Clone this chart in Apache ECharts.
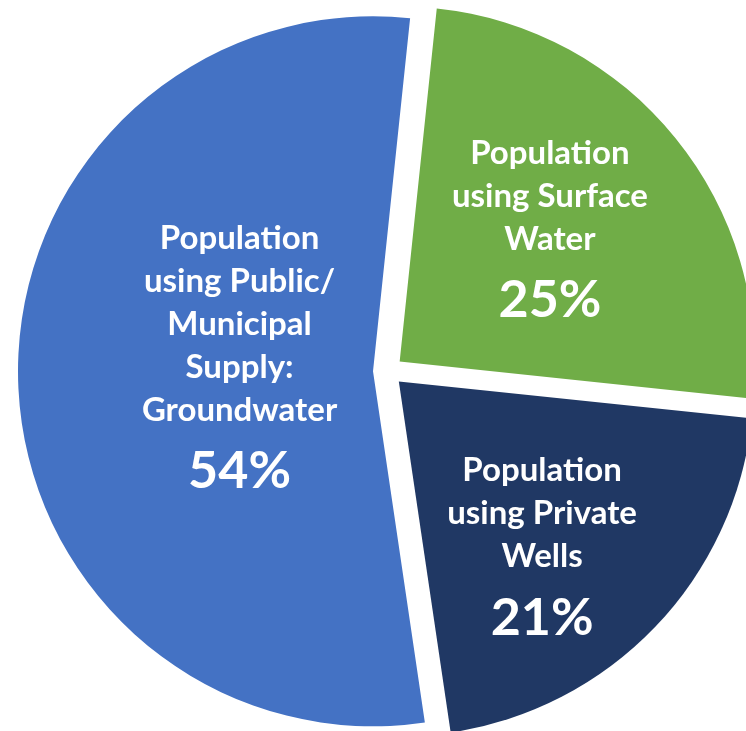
<!DOCTYPE html>
<html>
<head>
<meta charset="utf-8">
<script src="https://cdn.jsdelivr.net/npm/echarts@6/dist/echarts.min.js"></script>
<style>
html,body{margin:0;padding:0;background:#fff;}
#chart{width:746px;height:731px;}
</style>
</head>
<body>
<div id="chart"></div>
<script>
const categories = ['Population using Surface Water', 'Population using Private Wells', 'Population using Public/ Municipal Supply: Groundwater'];
const labelLines = [
  ['Population', 'using Surface', 'Water'],
  ['Population', 'using Private', 'Wells'],
  ['Population', 'using Public/', 'Municipal', 'Supply:', 'Groundwater']
];
const values = [25, 21, 54];
const colors = ['#70AD47', '#203864', '#4472C4'];

const labelPads = [[0, 0, 24, 20], [94, 0, 0, 26], [0, 0, 22, 94]];

const chart = echarts.init(document.getElementById('chart'), null, {renderer: 'canvas'});
const data = categories.map((name, i) => ({
  name: name,
  value: values[i],
  selected: true,
  itemStyle: {color: colors[i]},
  label: {padding: labelPads[i]}
}));

chart.setOption({
  animation: false,
  series: [{
    type: 'pie',
    center: [388, 371],
    radius: [0, 355],
    startAngle: 84,
    clockwise: true,
    selectedMode: 'multiple',
    selectedOffset: 15,
    emphasis: {scale: false, disabled: true},
    itemStyle: {borderWidth: 0},
    label: {
      show: true,
      position: 'inside',
      color: '#fff',
      fontFamily: 'Lato',
      fontWeight: 'bold',
      formatter: function (p) {
        const lines = labelLines[p.dataIndex].map(l => '{n|' + l + '}');
        return lines.join('\n') + '\n{p|' + values[p.dataIndex] + '%}';
      },
      rich: {
        n: {fontFamily: 'Lato', fontWeight: 'bold', fontSize: 33, lineHeight: 43, color: '#fff'},
        p: {fontFamily: 'Lato', fontWeight: 'bold', fontSize: 52, lineHeight: 80, color: '#fff'}
      }
    },
    labelLine: {show: false},
    data: data
  }]
});
</script>
</body>
</html>
